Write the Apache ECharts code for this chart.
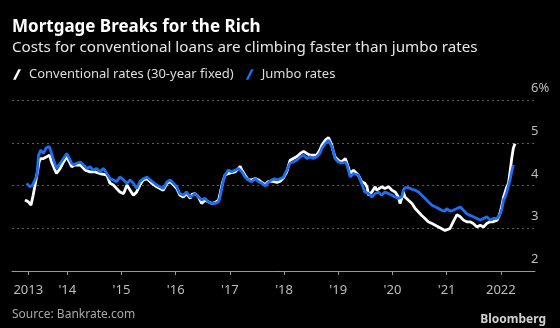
<!DOCTYPE html>
<html>
<head>
<meta charset="utf-8">
<script src="https://cdn.jsdelivr.net/npm/echarts@6/dist/echarts.min.js"></script>
<style>
html,body{margin:0;padding:0;background:#000;}
#chart{width:560px;height:328px;}
</style>
</head>
<body>
<div id="chart"></div>
<script>
// Conventional rates (30-year fixed): [decimal year, %]
var conventional = [
[2013.22,3.66],[2013.28,3.62],[2013.33,3.54],[2013.37,3.77],[2013.40,3.97],[2013.45,4.32],[2013.48,4.55],[2013.51,4.63],[2013.56,4.63],[2013.62,4.67],[2013.67,4.71],[2013.71,4.55],[2013.76,4.40],[2013.80,4.28],[2013.87,4.40],[2013.93,4.55],[2013.99,4.67],[2014.04,4.55],[2014.08,4.44],[2014.14,4.48],[2014.24,4.48],[2014.33,4.36],[2014.42,4.32],[2014.51,4.32],[2014.60,4.28],
[2014.67,4.26],[2014.73,4.24],[2014.79,4.05],[2014.85,4.01],[2014.91,3.93],[2014.97,3.85],[2015.04,3.81],[2015.10,4.01],[2015.16,3.89],[2015.22,3.77],[2015.28,3.85],[2015.34,4.01],[2015.40,4.13],[2015.47,4.16],[2015.53,4.09],[2015.59,4.02],[2015.65,3.97],[2015.71,3.93],[2015.77,3.89],[2015.84,4.05],[2015.90,4.09],[2015.96,4.01],[2016.02,3.93],[2016.08,3.77],[2016.14,3.73],[2016.20,3.81],[2016.27,3.70],
[2016.30,3.79],[2016.36,3.81],[2016.42,3.73],[2016.48,3.58],[2016.51,3.54],[2016.54,3.66],[2016.60,3.62],[2016.67,3.58],[2016.73,3.60],[2016.79,3.66],[2016.82,3.81],[2016.86,4.05],[2016.91,4.24],[2016.97,4.28],[2017.03,4.30],[2017.10,4.32],[2017.16,4.40],[2017.19,4.45],[2017.22,4.36],[2017.28,4.24],[2017.34,4.13],[2017.40,4.13],[2017.47,4.16],[2017.53,4.13],[2017.59,4.07],[2017.65,4.02],[2017.71,4.09],[2017.77,4.10],
[2017.87,4.07],[2017.93,4.10],[2017.99,4.18],[2018.05,4.32],[2018.11,4.59],[2018.17,4.63],[2018.23,4.67],[2018.30,4.75],[2018.36,4.80],[2018.42,4.75],[2018.48,4.71],[2018.54,4.71],[2018.60,4.71],[2018.66,4.83],[2018.70,4.95],[2018.76,5.06],[2018.82,5.12],[2018.85,5.09],[2018.88,4.95],[2018.91,4.79],[2018.94,4.67],[2019.00,4.59],[2019.06,4.55],[2019.13,4.63],[2019.16,4.52],[2019.22,4.28],[2019.28,4.36],
[2019.31,4.36],[2019.37,4.24],[2019.43,4.09],[2019.49,4.05],[2019.53,3.97],[2019.56,3.77],[2019.62,3.85],[2019.68,3.97],[2019.71,3.89],[2019.74,3.93],[2019.80,3.97],[2019.86,3.93],[2019.93,3.97],[2019.99,3.89],[2020.05,3.85],[2020.11,3.73],[2020.14,3.58],[2020.17,3.70],[2020.20,3.85],[2020.23,3.73],[2020.29,3.66],[2020.36,3.58],[2020.42,3.46],[2020.48,3.38],[2020.54,3.30],[2020.60,3.23],[2020.66,3.15],[2020.73,3.11],[2020.79,3.07],[2020.85,3.03],[2020.91,2.99],[2020.97,2.95],
[2021.00,2.93],[2021.06,2.99],[2021.12,3.15],[2021.19,3.32],[2021.25,3.27],[2021.31,3.19],[2021.37,3.15],[2021.43,3.15],[2021.49,3.11],[2021.56,3.03],[2021.62,3.07],[2021.68,3.03],[2021.74,3.11],[2021.80,3.15],[2021.86,3.15],[2021.93,3.19],[2021.96,3.27],[2021.99,3.38],[2022.02,3.54],[2022.05,3.73],[2022.08,3.85],[2022.11,3.97],[2022.14,4.05],[2022.17,4.32],[2022.20,4.63],[2022.23,4.87],[2022.26,4.98]
];
// Jumbo rates: [decimal year, %]
var jumbo = [
[2013.25,4.05],[2013.31,3.97],[2013.36,4.01],[2013.44,4.24],[2013.47,4.71],[2013.51,4.83],[2013.56,4.75],[2013.61,4.88],[2013.67,4.91],[2013.70,4.79],[2013.74,4.63],[2013.80,4.40],[2013.87,4.52],[2013.93,4.63],[2013.99,4.75],[2014.04,4.63],[2014.08,4.52],[2014.12,4.48],[2014.17,4.52],[2014.24,4.55],[2014.30,4.48],[2014.36,4.40],[2014.42,4.44],[2014.48,4.36],[2014.54,4.40],[2014.60,4.32],
[2014.67,4.40],[2014.73,4.28],[2014.79,4.16],[2014.85,4.13],[2014.91,4.09],[2014.97,4.20],[2015.04,4.13],[2015.10,4.05],[2015.16,4.13],[2015.22,4.05],[2015.28,3.93],[2015.34,4.09],[2015.40,4.16],[2015.47,4.20],[2015.53,4.13],[2015.59,4.07],[2015.65,4.01],[2015.71,3.97],[2015.77,3.93],[2015.84,4.09],[2015.90,4.13],[2015.96,4.05],[2016.02,3.97],[2016.08,3.81],[2016.14,3.77],[2016.20,3.85],[2016.27,3.73],
[2016.30,3.77],[2016.36,3.81],[2016.42,3.73],[2016.48,3.66],[2016.54,3.70],[2016.60,3.62],[2016.67,3.58],[2016.73,3.58],[2016.79,3.62],[2016.82,3.73],[2016.86,4.01],[2016.91,4.24],[2016.97,4.36],[2017.03,4.32],[2017.10,4.36],[2017.16,4.40],[2017.19,4.44],[2017.22,4.32],[2017.28,4.20],[2017.34,4.13],[2017.40,4.09],[2017.47,4.16],[2017.53,4.09],[2017.59,4.05],[2017.65,3.99],[2017.71,4.07],[2017.77,4.13],[2017.83,4.16],
[2017.87,4.13],[2017.93,4.16],[2017.99,4.20],[2018.05,4.36],[2018.11,4.52],[2018.17,4.55],[2018.23,4.59],[2018.30,4.67],[2018.36,4.71],[2018.42,4.63],[2018.48,4.67],[2018.54,4.63],[2018.60,4.67],[2018.66,4.75],[2018.70,4.87],[2018.76,4.98],[2018.82,5.06],[2018.85,5.02],[2018.88,4.91],[2018.91,4.79],[2018.94,4.63],[2019.00,4.55],[2019.06,4.52],[2019.13,4.55],[2019.16,4.48],[2019.22,4.20],[2019.28,4.28],
[2019.37,4.24],[2019.43,4.05],[2019.49,3.85],[2019.56,3.81],[2019.62,3.73],[2019.68,3.81],[2019.74,3.85],[2019.80,3.77],[2019.86,3.85],[2019.93,3.81],[2019.99,3.77],[2020.05,3.73],[2020.11,3.70],[2020.17,3.73],[2020.20,3.89],[2020.23,3.95],[2020.29,3.95],[2020.36,3.91],[2020.42,3.89],[2020.48,3.85],[2020.54,3.77],[2020.60,3.70],[2020.66,3.62],[2020.73,3.54],[2020.79,3.50],[2020.85,3.46],[2020.91,3.42],[2020.97,3.40],
[2021.00,3.46],[2021.06,3.40],[2021.12,3.42],[2021.19,3.46],[2021.25,3.50],[2021.31,3.42],[2021.37,3.34],[2021.43,3.30],[2021.49,3.27],[2021.56,3.23],[2021.62,3.19],[2021.68,3.23],[2021.74,3.27],[2021.80,3.19],[2021.86,3.23],[2021.93,3.23],[2021.96,3.27],[2021.99,3.34],[2022.02,3.46],[2022.05,3.66],[2022.08,3.73],[2022.11,3.85],[2022.14,3.89],[2022.17,4.13],[2022.20,4.32],[2022.23,4.48]
];
var xTickValues = [2013.28, 2014, 2015, 2016, 2017, 2018, 2019, 2020, 2021, 2022];
var xTickLabels = ['2013', "'14", "'15", "'16", "'17", "'18", "'19", "'20", "'21", '2022'];
var yTicks = [2, 3, 4, 5, 6];
var seriesNames = ['Conventional rates (30-year fixed)', 'Jumbo rates'];
var titleText = 'Mortgage Breaks for the Rich';
var subtitleText = 'Costs for conventional loans are climbing faster than jumbo rates';
var sourceText = 'Source: Bankrate.com';

var FONT = 'Noto Sans';
var chart = echarts.init(document.getElementById('chart'), null, {renderer: 'canvas'});
var slash = 'path://M0,12 L3,12 L9,0 L6,0 Z';
chart.setOption({
  backgroundColor: '#000000',
  animation: false,
  textStyle: {fontFamily: FONT},
  title: [
    {text: titleText, left: 12, top: 19, padding: 0,
     textStyle: {color: '#ffffff', fontSize: 17, fontWeight: 'bold', fontFamily: FONT}},
    {text: subtitleText, left: 12, top: 40, padding: 0,
     textStyle: {color: '#e6e6e6', fontSize: 15.2, fontWeight: 'normal', fontFamily: FONT}}
  ],
  legend: {
    left: 13, top: 68, padding: 0,
    itemWidth: 8, itemHeight: 11, itemGap: 12,
    icon: slash,
    data: seriesNames,
    textStyle: {color: '#dddddd', fontSize: 13, fontFamily: FONT, padding: [0, 0, 0, 3]}
  },
  grid: {left: 12, right: 25, top: 100, bottom: 57, containLabel: false},
  xAxis: {
    type: 'value', min: 2012.98, max: 2022.63,
    axisLine: {show: true, lineStyle: {color: '#9a9a9a', width: 1}},
    axisTick: {show: true, customValues: xTickValues, length: 4, lineStyle: {color: '#9a9a9a'}},
    axisLabel: {
      customValues: xTickValues, color: '#bdbdbd', fontSize: 13, margin: 13, fontFamily: FONT,
      formatter: function (v) {
        var i = xTickValues.indexOf(v);
        return i >= 0 ? xTickLabels[i] : '';
      }
    },
    splitLine: {show: false}
  },
  yAxis: {
    type: 'value', position: 'right', min: yTicks[0], max: yTicks[yTicks.length - 1], interval: 1,
    axisLine: {show: false}, axisTick: {show: false},
    axisLabel: {
      color: '#bdbdbd', fontSize: 13, margin: -4, align: 'left', verticalAlign: 'bottom',
      padding: [0, 0, 5, 0], fontFamily: FONT,
      formatter: function (v) { return v === 6 ? '6%' : String(v); }
    },
    splitLine: {show: true, lineStyle: {color: '#5a5a5a', type: [2, 3], width: 1}}
  },
  series: [
    {name: seriesNames[0], type: 'line', data: conventional, showSymbol: false, symbol: 'none',
     color: '#ffffff', lineStyle: {color: '#ffffff', width: 2.8}, z: 2},
    {name: seriesNames[1], type: 'line', data: jumbo, showSymbol: false, symbol: 'none',
     color: '#1c6ef2', lineStyle: {color: '#1c6ef2', width: 2.8}, z: 3}
  ],
  graphic: [
    {type: 'text', left: 12, top: 309, style: {text: sourceText, fill: '#a8a8a8', font: '12px "' + FONT + '"'}},
    {type: 'text', right: 14, top: 314, style: {text: 'Bloomberg', fill: '#d0d0d0', font: 'bold 12px "' + FONT + '"'}}
  ]
});
</script>
</body>
</html>
